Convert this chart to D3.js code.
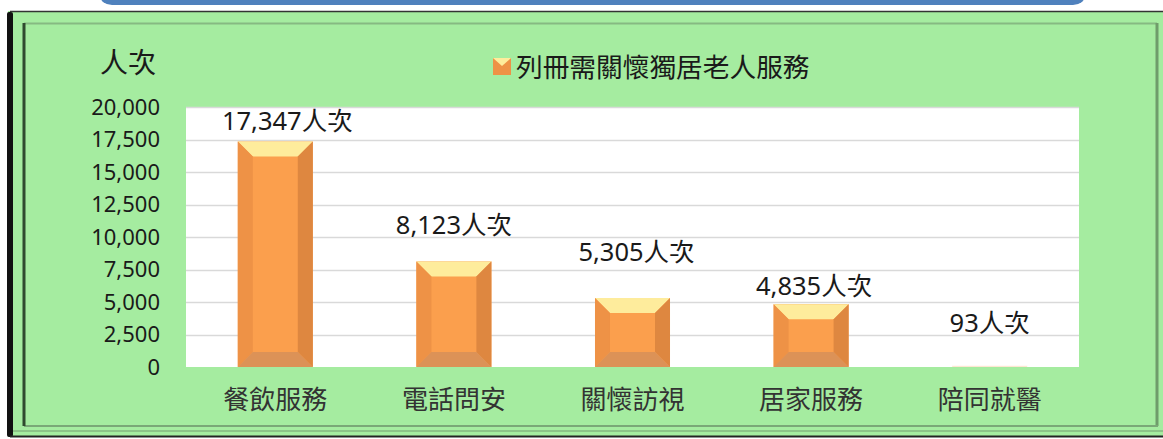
<!DOCTYPE html>
<html>
<head>
<meta charset="utf-8">
<script src="https://cdn.jsdelivr.net/npm/d3@7"></script>
<style>
  body { margin: 0; background: #fff; }
  svg text { font-family: "Noto Sans", "Noto Sans CJK TC", sans-serif; }
</style>
</head>
<body>
<svg id="chart" width="1163" height="439"></svg>
<script>
// data
var categories = ["餐飲服務", "電話問安", "關懷訪視", "居家服務", "陪同就醫"];
var values = [17347, 8123, 5305, 4835, 93];
var tickValues = [0, 2500, 5000, 7500, 10000, 12500, 15000, 17500, 20000];
var seriesName = "列冊需關懷獨居老人服務";
var unit = "人次";

// label nudges (layout only)
var labelGap = [11, 27, 37, 9, 34];
var labelShift = [12, 0, 4, 3, 0];

var svg = d3.select("#chart");

// blue banner above the chart
svg.append("rect")
  .attr("x", 100).attr("y", -14)
  .attr("width", 985).attr("height", 19)
  .attr("rx", 12)
  .style("fill", "#4f81bd");

// green panel with bevelled frame
svg.append("rect")
  .attr("x", 8).attr("y", 11)
  .attr("width", 1160).attr("height", 426)
  .style("fill", "#a5eca0");
svg.append("rect")
  .attr("x", 7).attr("y", 12)
  .attr("width", 6).attr("height", 425)
  .attr("rx", 2)
  .style("fill", "#111");
svg.append("line")
  .attr("x1", 10).attr("x2", 1163).attr("y1", 11.5).attr("y2", 11.5)
  .style("stroke", "#333").style("stroke-width", 1.5);
svg.append("line")
  .attr("x1", 10).attr("x2", 1163).attr("y1", 436.5).attr("y2", 436.5)
  .style("stroke", "#222").style("stroke-width", 2);
svg.append("line")
  .attr("x1", 13).attr("x2", 1163).attr("y1", 431).attr("y2", 431)
  .style("stroke", "#8cc488").style("stroke-width", 2);
// inner frame
svg.append("line")
  .attr("x1", 24).attr("x2", 1157).attr("y1", 23.5).attr("y2", 23.5)
  .style("stroke", "#86b982").style("stroke-width", 2);
svg.append("line")
  .attr("x1", 1157).attr("x2", 1157).attr("y1", 23).attr("y2", 426)
  .style("stroke", "#6f9c6b").style("stroke-width", 3);
svg.append("line")
  .attr("x1", 24).attr("x2", 1158).attr("y1", 426).attr("y2", 426)
  .style("stroke", "#7aa877").style("stroke-width", 2);
svg.append("line")
  .attr("x1", 24).attr("x2", 24).attr("y1", 23).attr("y2", 426)
  .style("stroke", "#2f4a2e").style("stroke-width", 3);

// plot area
var plot = {left: 186, right: 1079, top: 107, bottom: 367};

var x = d3.scaleBand()
  .domain(categories)
  .range([plot.left, plot.right])
  .paddingInner(0.58)
  .paddingOuter(0.29);

var y = d3.scaleLinear()
  .domain([0, 20000])
  .range([plot.bottom, plot.top]);

svg.append("rect")
  .attr("x", plot.left).attr("y", plot.top)
  .attr("width", plot.right - plot.left).attr("height", plot.bottom - plot.top)
  .style("fill", "#fff");

// gridlines
svg.append("g").selectAll("line")
  .data(tickValues.filter(function(d) { return d > 0; }))
  .enter().append("line")
  .attr("x1", plot.left).attr("x2", plot.right)
  .attr("y1", function(d) { return Math.round(y(d)) + 0.5; })
  .attr("y2", function(d) { return Math.round(y(d)) + 0.5; })
  .style("stroke", "#d9d9d9").style("stroke-width", 1.5);

// y axis
var yAxis = svg.append("g")
  .attr("transform", "translate(" + plot.left + ",0)")
  .call(d3.axisLeft(y).tickValues(tickValues).tickSize(0).tickPadding(26).tickFormat(d3.format(",")));
yAxis.select(".domain").remove();
yAxis.selectAll("text")
  .style("font-size", "22px")
  .style("fill", "#1a1a1a");

// x axis
var xAxis = svg.append("g")
  .attr("transform", "translate(0," + plot.bottom + ")")
  .call(d3.axisBottom(x).tickSize(0).tickPadding(24));
xAxis.select(".domain").remove();
xAxis.selectAll("text")
  .style("font-size", "26px")
  .style("fill", "#333");

// bevelled bars
var bevelColors = {front: "#fb9f4d", top: "#feec9c", left: "#ee9246", right: "#de8740", bottom: "#dc9257"};

var bars = svg.append("g").selectAll(".bar")
  .data(values)
  .enter().append("g")
  .attr("class", "bar");

bars.each(function(d, i) {
  var g = d3.select(this);
  var x0 = x(categories[i]), w = x.bandwidth();
  var y0 = y(d), y1 = y(0), h = y1 - y0;
  var b = Math.min(15, h / 2, w / 2);
  var x1 = x0 + w;
  g.append("rect")
    .attr("x", x0).attr("y", y0).attr("width", w).attr("height", h)
    .style("fill", bevelColors.front)
    .style("opacity", h < 3 ? 0.25 : 1);
  if (b < 1) return;
  var pts = function(a) { return a.map(function(p) { return p.join(","); }).join(" "); };
  g.append("polygon")
    .attr("points", pts([[x0, y0], [x1, y0], [x1 - b, y0 + b], [x0 + b, y0 + b]]))
    .style("fill", bevelColors.top);
  g.append("polygon")
    .attr("points", pts([[x0, y0], [x0 + b, y0 + b], [x0 + b, y1 - b], [x0, y1]]))
    .style("fill", bevelColors.left);
  g.append("polygon")
    .attr("points", pts([[x1, y0], [x1, y1], [x1 - b, y1 - b], [x1 - b, y0 + b]]))
    .style("fill", bevelColors.right);
  g.append("polygon")
    .attr("points", pts([[x0, y1], [x0 + b, y1 - b], [x1 - b, y1 - b], [x1, y1]]))
    .style("fill", bevelColors.bottom);
});

// data labels
svg.append("g").selectAll(".label")
  .data(values)
  .enter().append("text")
  .attr("class", "label")
  .attr("x", function(d, i) { return x(categories[i]) + x.bandwidth() / 2 + labelShift[i]; })
  .attr("y", function(d, i) { return y(d) - labelGap[i]; })
  .attr("text-anchor", "middle")
  .style("font-size", "25.5px")
  .style("fill", "#1a1a1a")
  .text(function(d) { return d3.format(",")(d) + unit; });

// y axis title
svg.append("text")
  .attr("x", 128).attr("y", 73)
  .attr("text-anchor", "middle")
  .style("font-size", "28px")
  .style("fill", "#1a1a1a")
  .text(unit);

// legend
var legend = svg.append("g").attr("transform", "translate(493,58)");
legend.append("rect")
  .attr("width", 18).attr("height", 17)
  .style("fill", bevelColors.left);
legend.append("polygon")
  .attr("points", "0,0 18,0 9,8")
  .style("fill", bevelColors.top);
legend.append("text")
  .attr("x", 23).attr("y", 19)
  .style("font-size", "26.7px")
  .style("fill", "#1a1a1a")
  .text(seriesName);
</script>
</body>
</html>
